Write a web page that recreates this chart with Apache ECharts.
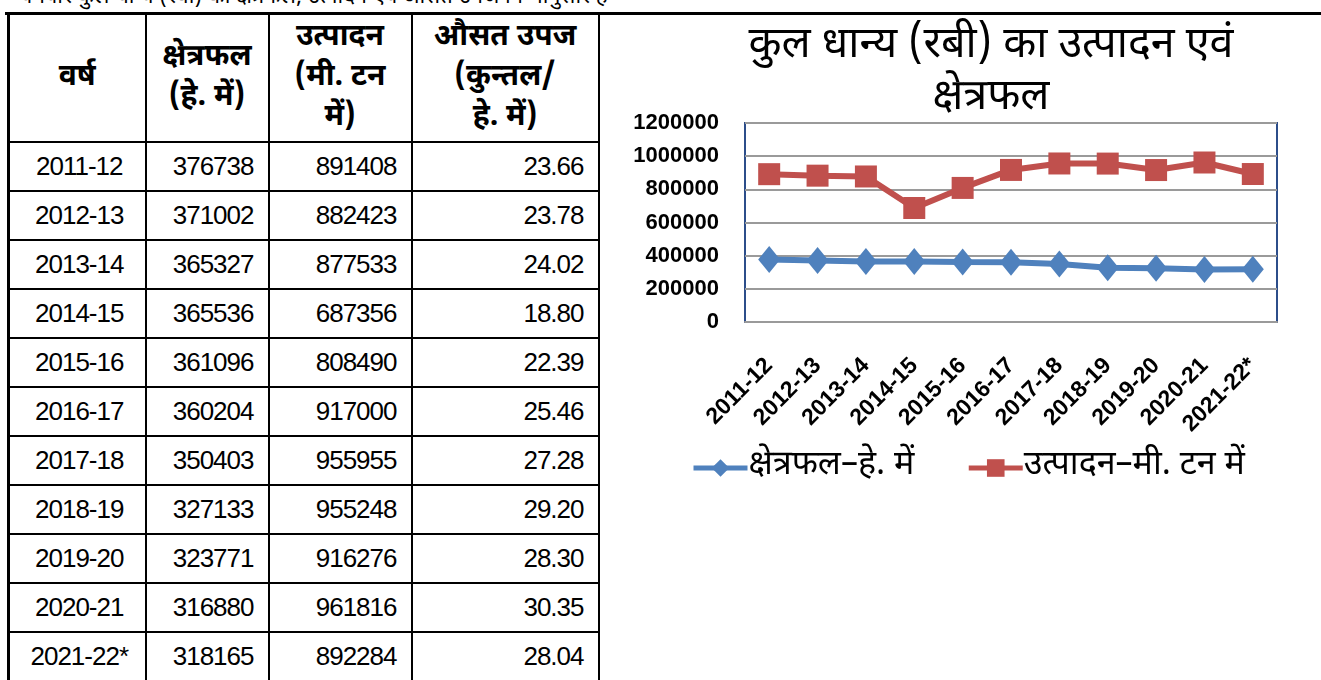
<!DOCTYPE html>
<html>
<head>
<meta charset="utf-8">
<script src="https://cdn.jsdelivr.net/npm/echarts@6.0.0/dist/echarts.min.js"></script>
<style>
  html, body { margin: 0; padding: 0; background: #fff; width: 1321px; height: 680px; overflow: hidden; }
  body { position: relative; font-family: "Noto Sans Devanagari", "Lohit Devanagari", "Noto Sans", sans-serif; }
  .topline { position: absolute; left: 20px; top: -17px; font-size: 22px; white-space: nowrap; color: #000; }
  .rule { position: absolute; left: 5px; top: 12px; width: 1316px; height: 3px; background: #000; }
  table { position: absolute; left: 7px; top: 12px; border-collapse: collapse; border-left: 3px solid #000; }
  td, th { border: 2px solid #000; padding: 0 14px 0 0; height: 47px; }
  th { font-weight: bold; font-size: 30px; line-height: 40px; text-align: center; padding: 0; height: 127px; }
  td { font-family: "Liberation Sans Narrow", "Arial Narrow", "Liberation Sans", sans-serif; font-size: 26px; letter-spacing: -1px; text-align: right; }
  td.yr { text-align: center; padding: 0 0 0 4px; }
  #chart { position: absolute; left: 600px; top: 16px; width: 721px; height: 664px; }
</style>
</head>
<body>
<div class="topline">वर्षवार कुल धान्य (रबी) का क्षेत्रफल, उत्पादन एवं औसत उपज निम्नानुसार है</div>
<div class="rule"></div>
<table id="tbl">
  <colgroup><col style="width:137px"><col style="width:123px"><col style="width:143px"><col style="width:187px"></colgroup>
  <thead>
    <tr>
      <th>वर्ष</th>
      <th>क्षेत्रफल<br>(हे. में)</th>
      <th>उत्पादन<br>(मी. टन<br>में)</th>
      <th>औसत उपज<br>(कुन्तल/<br>हे. में)</th>
    </tr>
  </thead>
  <tbody></tbody>
</table>
<div id="chart"></div>
<script>
const years = ['2011-12', '2012-13', '2013-14', '2014-15', '2015-16', '2016-17', '2017-18', '2018-19', '2019-20', '2020-21', '2021-22*']
const area = [376738, 371002, 365327, 365536, 361096, 360204, 350403, 327133, 323771, 316880, 318165]
const production = [891408, 882423, 877533, 687356, 808490, 917000, 955955, 955248, 916276, 961816, 892284]
const avgYield = ['23.66', '23.78', '24.02', '18.80', '22.39', '25.46', '27.28', '29.20', '28.30', '30.35', '28.04']

const areaName = 'क्षेत्रफल–हे. में'
const prodName = 'उत्पादन–मी. टन में'

// fill the table
const tbody = document.querySelector('#tbl tbody')
years.forEach((y, i) => {
  const tr = document.createElement('tr')
  tr.innerHTML = '<td class="yr">' + y + '</td><td>' + area[i] + '</td><td>' + production[i] + '</td><td>' + avgYield[i] + '</td>'
  tbody.appendChild(tr)
})

const deva = '"Noto Sans Devanagari", "Lohit Devanagari", "Noto Sans", sans-serif'
const chart = echarts.init(document.getElementById('chart'))
chart.setOption({
  animation: false,
  title: {
    text: 'कुल धान्य (रबी) का उत्पादन एवं\nक्षेत्रफल',
    left: 386,
    top: 2,
    textAlign: 'center',
    textStyle: {
      fontFamily: deva,
      fontSize: 43,
      fontWeight: 'normal',
      lineHeight: 52,
      color: '#000'
    }
  },
  legend: {
    left: 86,
    top: 430,
    itemWidth: 54,
    itemHeight: 22,
    itemGap: 52,
    lineStyle: { width: 5 },
    textStyle: { fontFamily: deva, fontSize: 34, color: '#000', padding: [0, 0, 0, -4] },
    data: [areaName, prodName]
  },
  grid: {
    left: 145,
    right: 44,
    top: 107,
    height: 199,
    show: true,
    borderColor: '#2C4D8A',
    borderWidth: 2
  },
  xAxis: {
    type: 'category',
    data: years,
    axisLine: { lineStyle: { color: '#9A9A9A', width: 2 } },
    axisTick: { show: false },
    axisLabel: {
      rotate: 45,
      interval: 0,
      margin: 40,
      fontFamily: 'Liberation Sans, Arial, sans-serif',
      fontWeight: 'bold',
      fontSize: 23,
      color: '#000'
    }
  },
  yAxis: {
    type: 'value',
    min: 0,
    max: 1200000,
    interval: 200000,
    axisLine: { show: false },
    axisTick: { show: false },
    splitLine: { lineStyle: { color: '#9A9A9A', width: 2 } },
    axisLabel: {
      margin: 26,
      formatter: v => String(v),
      fontFamily: 'Liberation Sans, Arial, sans-serif',
      fontWeight: 'bold',
      fontSize: 22,
      color: '#000'
    }
  },
  series: [{
    name: areaName,
    type: 'line',
    data: area,
    symbol: 'diamond',
    symbolSize: [22, 27],
    lineStyle: { color: '#4F81BD', width: 6 },
    itemStyle: { color: '#4F81BD' }
  }, {
    name: prodName,
    type: 'line',
    data: production,
    symbol: 'rect',
    symbolSize: 22,
    lineStyle: { color: '#C0504D', width: 6 },
    itemStyle: { color: '#C0504D' }
  }]
})
</script>
</body>
</html>
